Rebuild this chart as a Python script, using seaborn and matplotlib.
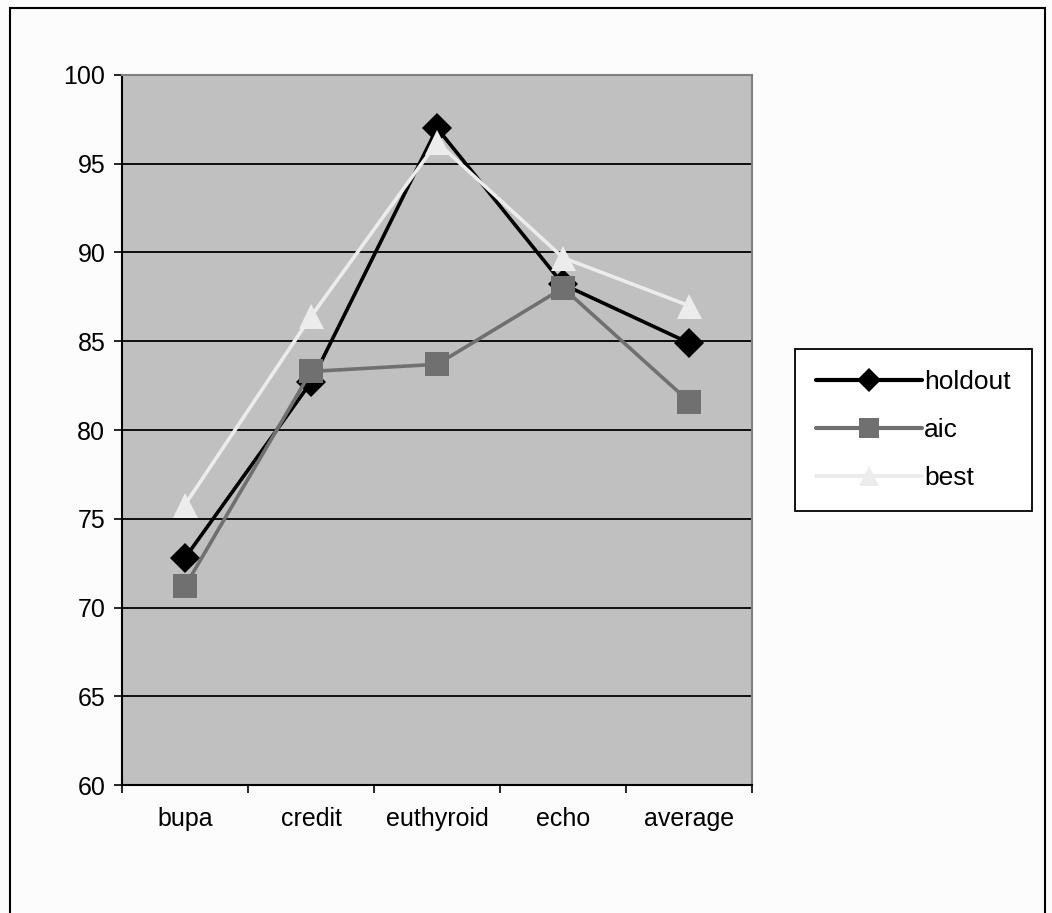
import matplotlib
matplotlib.use("Agg")
import matplotlib.pyplot as plt
from matplotlib.patches import Rectangle
from matplotlib.ticker import FixedLocator, NullFormatter
import seaborn as sns
import pandas as pd

# Accuracy (%) per dataset for each model selection method
datasets = ["bupa", "credit", "euthyroid", "echo", "average"]
holdout = [72.8, 82.7, 97.0, 88.2, 84.9]
aic = [71.2, 83.3, 83.7, 88.0, 81.6]
best = [75.8, 86.4, 96.2, 89.7, 87.0]
methods = ["holdout", "aic", "best"]
yticks = [60, 65, 70, 75, 80, 85, 90, 95, 100]

df = pd.concat([
    pd.DataFrame({"dataset": datasets, "accuracy": vals, "method": name})
    for name, vals in zip(methods, [holdout, aic, best])
], ignore_index=True)
df["pos"] = df["dataset"].map({d: i for i, d in enumerate(datasets)})

sns.set_theme(style="white")
plt.rcParams["font.family"] = ["Liberation Sans", "DejaVu Sans"]
plt.rcParams["text.color"] = "black"
plt.rcParams["xtick.color"] = "black"
plt.rcParams["ytick.color"] = "black"

fig = plt.figure(figsize=(10.52, 9.13), dpi=100, facecolor="#fcfcfc")
ax = fig.add_axes([0.116, 0.140, 0.599, 0.778])
ax.set_facecolor("#c0c0c0")

palette = {"holdout": "#000000", "aic": "#707070", "best": "#ececec"}
markers = {"holdout": "D", "aic": "s", "best": "^"}
marker_sizes = {"holdout": 15, "aic": 17, "best": 18}

sns.lineplot(data=df, x="pos", y="accuracy", hue="method", style="method",
             hue_order=methods, style_order=methods, palette=palette,
             markers=markers, dashes=False, sort=False, linewidth=2.6,
             markersize=15, markeredgewidth=0, ax=ax, zorder=3)
for line, name in zip(ax.lines, methods):
    line.set_markersize(marker_sizes[name])

ax.set_xlim(-0.5, len(datasets) - 0.5)
ax.set_ylim(60, 100)
ax.set_yticks(yticks)
ax.yaxis.grid(True, color="black", linewidth=1.3)
ax.set_axisbelow(True)

ax.set_xticks(range(len(datasets)))
ax.set_xticklabels(datasets)
ax.xaxis.set_minor_locator(FixedLocator([i - 0.5 for i in range(len(datasets) + 1)]))
ax.xaxis.set_minor_formatter(NullFormatter())
ax.tick_params(axis="x", which="major", length=0, pad=16, labelsize=18,
               labelcolor="black")
ax.tick_params(axis="x", which="minor", length=6, width=1.2, color="black",
               direction="out", bottom=True)
ax.tick_params(axis="y", which="major", length=6, width=1.2, color="black",
               direction="out", left=True, labelsize=18, pad=6, labelcolor="black")
ax.set_xlabel("")
ax.set_ylabel("")

for side in ["left", "bottom"]:
    ax.spines[side].set_color("black")
    ax.spines[side].set_linewidth(1.5)
for side in ["top", "right"]:
    ax.spines[side].set_color("#808080")
    ax.spines[side].set_linewidth(1.5)

handles, labels = ax.get_legend_handles_labels()
ax.legend(handles, labels, loc="center left", bbox_to_anchor=(1.068, 0.5),
          frameon=True, fancybox=False, edgecolor="black", facecolor="white",
          framealpha=1, fontsize=19, handlelength=4.0, handletextpad=0.1,
          labelspacing=0.9, borderpad=0.8, borderaxespad=0, labelcolor="black")
leg = ax.get_legend()
leg.get_frame().set_linewidth(1.3)
for line, name in zip(leg.get_lines(), methods):
    line.set_linewidth(3)
    line.set_markersize(marker_sizes[name] - 3)

# outer chart border
fig.patches.append(Rectangle((0.0095, -0.01), 0.984, 1.001, transform=fig.transFigure,
                             fill=False, edgecolor="black", linewidth=1.5))

fig.savefig("out.png", dpi=100, facecolor=fig.get_facecolor())
